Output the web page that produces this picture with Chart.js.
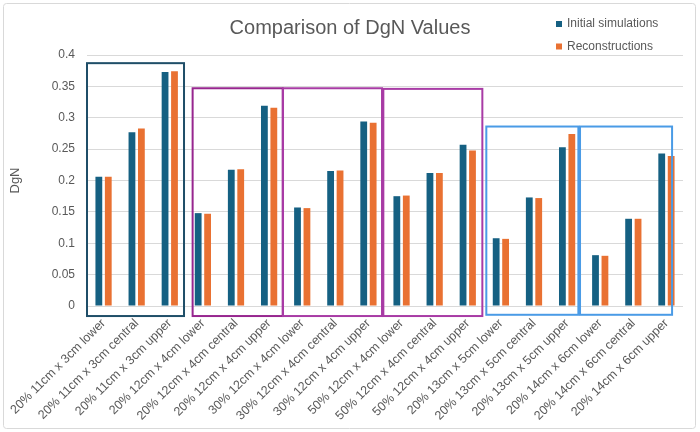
<!DOCTYPE html>
<html>
<head>
<meta charset="utf-8">
<script src="https://cdn.jsdelivr.net/npm/chart.js@4.4.1/dist/chart.umd.min.js"></script>
<style>
  html, body { margin: 0; padding: 0; background: #fff; }
  #wrap { position: relative; width: 700px; height: 432px; }
</style>
</head>
<body>
<div id="wrap"><canvas id="dgnChart" width="700" height="432"></canvas></div>
<script>
// Data
const categories = [
    '20% 11cm x 3cm lower', '20% 11cm x 3cm central', '20% 11cm x 3cm upper',
    '20% 12cm x 4cm lower', '20% 12cm x 4cm central', '20% 12cm x 4cm upper',
    '30% 12cm x 4cm lower', '30% 12cm x 4cm central', '30% 12cm x 4cm upper',
    '50% 12cm x 4cm lower', '50% 12cm x 4cm central', '50% 12cm x 4cm upper',
    '20% 13cm x 5cm lower', '20% 13cm x 5cm central', '20% 13cm x 5cm upper',
    '20% 14cm x 6cm lower', '20% 14cm x 6cm central', '20% 14cm x 6cm upper'
];
const initialSimulations = [
    0.206, 0.277, 0.373,
    0.148, 0.217, 0.319,
    0.157, 0.215, 0.294,
    0.175, 0.212, 0.257,
    0.108, 0.173, 0.253,
    0.081, 0.139, 0.243
];
const reconstructions = [
    0.206, 0.283, 0.374,
    0.147, 0.218, 0.316,
    0.156, 0.216, 0.292,
    0.176, 0.212, 0.248,
    0.107, 0.172, 0.274,
    0.080, 0.139, 0.239
];
const yTicks = [0, 0.05, 0.1, 0.15, 0.2, 0.25, 0.3, 0.35, 0.4];

// Highlight boxes: category span (fractional index) and value span
const boxFrom = [-0.5, 2.69, 5.42, 8.45, 11.56, 14.39];
const boxTo = [2.43, 5.41, 8.41, 11.44, 14.34, 17.17];
const boxTop = [0.387, 0.347, 0.347, 0.346, 0.286, 0.286];
const boxBottom = [-0.016, -0.016, -0.016, -0.016, -0.014, -0.014];

const colors = {
    blue: '#156082',
    orange: '#E97132',
    text: '#595959',
    grid: '#d9d9d9',
    boxes: ['#1f4e68', '#97268f', '#a83ba5', '#a83ba5', '#4a9be6', '#4a9be6']
};
const FONT = "'Liberation Sans', Arial, sans-serif";

// Outer frame + group boxes + vertical legend
const extras = {
    id: 'extras',
    beforeDraw(chart) {
        const ctx = chart.ctx;
        ctx.save();
        ctx.strokeStyle = colors.grid;
        ctx.lineWidth = 1;
        ctx.beginPath();
        ctx.roundRect(3.5, 3.5, 692, 425, 3);
        ctx.stroke();
        ctx.restore();
    },
    afterDatasetsDraw(chart) {
        const { ctx, scales: { x, y } } = chart;
        ctx.save();
        ctx.lineWidth = 2;
        boxFrom.forEach((from, i) => {
            const l = x.getPixelForValue(from);
            const r = x.getPixelForValue(boxTo[i]);
            const t = y.getPixelForValue(boxTop[i]);
            const b = y.getPixelForValue(boxBottom[i]);
            ctx.strokeStyle = colors.boxes[i];
            ctx.strokeRect(l, t, r - l, b - t);
        });
        ctx.restore();
    },
    afterDraw(chart) {
        const ctx = chart.ctx;
        ctx.save();
        ctx.font = '12px ' + FONT;
        ctx.textBaseline = 'middle';
        chart.data.datasets.forEach((ds, i) => {
            const yy = 24 + i * 22.5;
            ctx.fillStyle = ds.backgroundColor;
            ctx.fillRect(556, yy - 3, 6, 6);
            ctx.fillStyle = colors.text;
            ctx.fillText(ds.label, 567, yy);
        });
        ctx.restore();
    }
};

new Chart(document.getElementById('dgnChart'), {
    type: 'bar',
    data: {
        labels: categories,
        datasets: [{
            label: 'Initial simulations',
            data: initialSimulations,
            backgroundColor: colors.blue,
            categoryPercentage: 0.57,
            barPercentage: 0.72
        }, {
            label: 'Reconstructions',
            data: reconstructions,
            backgroundColor: colors.orange,
            categoryPercentage: 0.57,
            barPercentage: 0.72
        }]
    },
    options: {
        responsive: false,
        animation: false,
        devicePixelRatio: 1,
        layout: { padding: { left: 17, right: 17, top: 0, bottom: 0 } },
        plugins: {
            legend: { display: false },
            tooltip: { enabled: false },
            title: {
                display: true,
                text: 'Comparison of DgN Values',
                color: colors.text,
                font: { family: FONT, size: 20, weight: 'normal' },
                padding: { top: 16, bottom: 15 }
            }
        },
        scales: {
            x: {
                grid: { display: false },
                border: { display: false },
                ticks: {
                    color: colors.text,
                    font: { family: FONT, size: 12.5 },
                    autoSkip: false,
                    minRotation: 45,
                    maxRotation: 45,
                    padding: 2
                },
                afterFit: (s) => { s.height = 126; }
            },
            y: {
                min: 0,
                max: 0.4,
                afterBuildTicks: (s) => { s.ticks = yTicks.map(v => ({ value: v })); },
                grid: { color: colors.grid, lineWidth: 1, drawTicks: false },
                border: { display: false },
                ticks: {
                    color: colors.text,
                    font: { family: FONT, size: 12 },
                    padding: 12,
                    callback: (v) => String(v)
                },
                title: {
                    display: true,
                    text: 'DgN',
                    color: colors.text,
                    font: { family: FONT, size: 13 },
                    padding: { top: -9, bottom: 0 }
                },
                afterFit: (s) => { s.width = 70; }
            }
        }
    },
    plugins: [extras]
});
</script>
</body>
</html>
